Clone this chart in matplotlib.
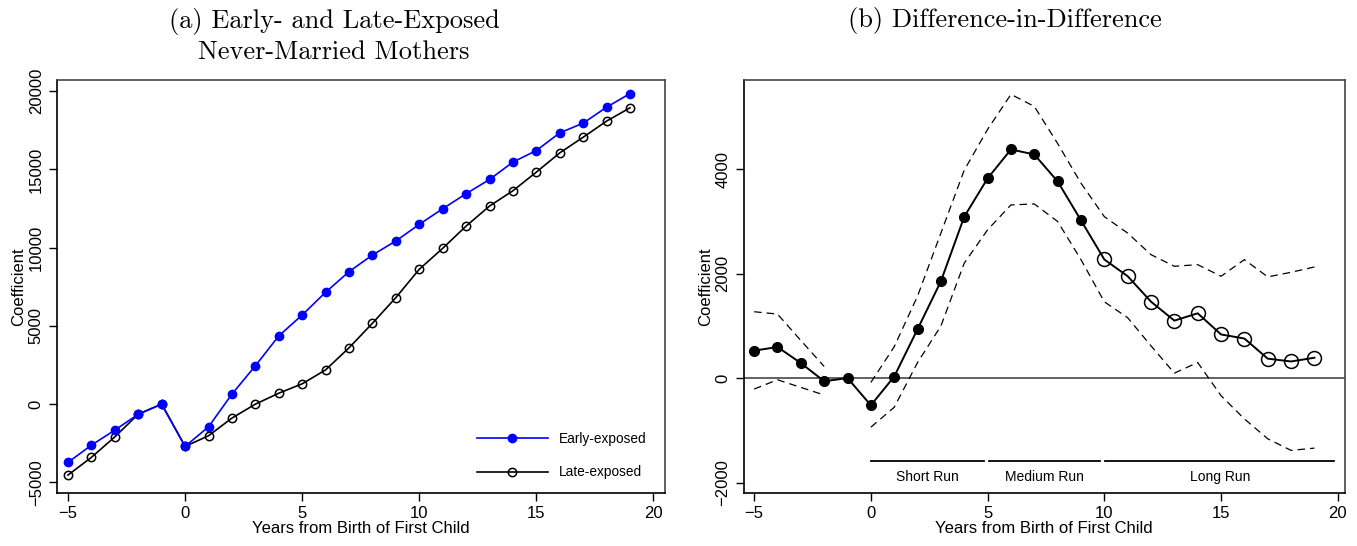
import numpy as np
import matplotlib.pyplot as plt

plt.rcParams['font.family'] = ['Liberation Sans', 'DejaVu Sans']

years = list(range(-5, 20))

# panel (a)
early = [-3720, -2620, -1660, -640, 0, -2700, -1450, 640, 2450, 4360, 5700, 7150,
         8470, 9530, 10430, 11490, 12490, 13450, 14360, 15470, 16210, 17340,
         17960, 18980, 19850]
late = [-4530, -3400, -2090, -640, 0, -2700, -2020, -890, 0, 700, 1300, 2190,
        3600, 5170, 6810, 8620, 9960, 11380, 12660, 13640, 14830, 16060,
        17060, 18090, 18940]

# panel (b)
did = [525, 595, 287, -60, 0, -520, 30, 936, 1854, 3089, 3822, 4376, 4280,
       3764, 3019, 2270, 1950, 1462, 1100, 1240, 835, 757, 372, 318, 390]
pre_years = [-5, -4, -3, -2]
pre_upper = [1270, 1225, 720, 222]
pre_lower = [-210, -32, -178, -324]
post_years = list(range(0, 20))
post_upper = [-83, 600, 1570, 2775, 3980, 4760, 5430, 5200, 4490, 3730, 3090,
              2775, 2362, 2140, 2171, 1949, 2267, 1937, 2025, 2127]
post_lower = [-940, -559, 298, 997, 2200, 2838, 3314, 3333, 2997, 2267, 1460,
              1156, 616, 95, 298, -337, -781, -1162, -1384, -1340]

periods = ["Short Run", "Medium Run", "Long Run"]
period_start = [0, 5.05, 10.05]
period_end = [4.85, 9.8, 19.85]

fig = plt.figure(figsize=(13.57, 5.46), dpi=100)
ax1 = fig.add_axes([0.042, 0.097, 0.448, 0.756])
ax2 = fig.add_axes([0.548, 0.097, 0.443, 0.756])

title_font = dict(family='cmr10', fontsize=19)

ax1.plot(years, early, color='blue', marker='o', ms=6, lw=1.2, label='Early-exposed',
         zorder=3)
ax1.plot(years, late, color='black', marker='o', ms=6, mfc='none', mew=1.1, lw=1.2,
         label='Late-exposed', zorder=2)
ax1.set_xlim(-5.47, 20.49)
ax1.set_ylim(-5680, 20700)
ax1.set_yticks([-5000, 0, 5000, 10000, 15000, 20000])
ax1.set_xticks([-5, 0, 5, 10, 15, 20])
fig.text(334 / 1357, 0.934, "(a) Early- and Late-Exposed\nNever-Married Mothers",
         ha='center', va='center', linespacing=1.25, **title_font)
leg = ax1.legend(loc='lower right', frameon=False, handlelength=5.2, labelspacing=1.45,
                 fontsize=9.8, borderaxespad=0.3, bbox_to_anchor=(0.985, 0.01))

# panel (b)
ax2.axhline(0, color='#555555', lw=1.3, zorder=1)
ax2.plot(pre_years, pre_upper, 'k--', lw=0.9, dashes=(6, 4))
ax2.plot(pre_years, pre_lower, 'k--', lw=0.9, dashes=(6, 4))
ax2.plot(post_years, post_upper, 'k--', lw=0.9, dashes=(6, 4))
ax2.plot(post_years, post_lower, 'k--', lw=0.9, dashes=(6, 4))
ax2.plot(years, did, color='black', lw=1.4)
ax2.plot(years[:15], did[:15], 'o', color='black', ms=7)
ax2.plot(years[15:], did[15:], 'o', color='black', mfc='none', ms=10, mew=1.1)
for name, s, e in zip(periods, period_start, period_end):
    ax2.plot([s, e], [-1590, -1590], color='black', lw=1.3)
    ax2.text((s + e) / 2, -1890, name, ha='center', va='center', fontsize=10)
ax2.set_xlim(-5.45, 20.3)
ax2.set_ylim(-2200, 5700)
ax2.set_yticks([-2000, 0, 2000, 4000])
ax2.set_xticks([-5, 0, 5, 10, 15, 20])
fig.text(1005 / 1357, 0.963, "(b) Difference-in-Difference",
         ha='center', va='center', **title_font)

for ax in (ax1, ax2):
    ax.set_xlabel("Years from Birth of First Child", fontsize=12, labelpad=0)
    ax.set_ylabel("Coefficient", fontsize=12, labelpad=2)
    ax.tick_params(axis='both', labelsize=12, length=6, width=1, direction='out')
    plt.setp(ax.get_yticklabels(), rotation=90, va='center')
    for sp in ax.spines.values():
        sp.set_linewidth(1.2)
    ax.spines['top'].set_color('#444444')
    ax.spines['right'].set_color('#444444')

fig.savefig("out.png", dpi=100)
